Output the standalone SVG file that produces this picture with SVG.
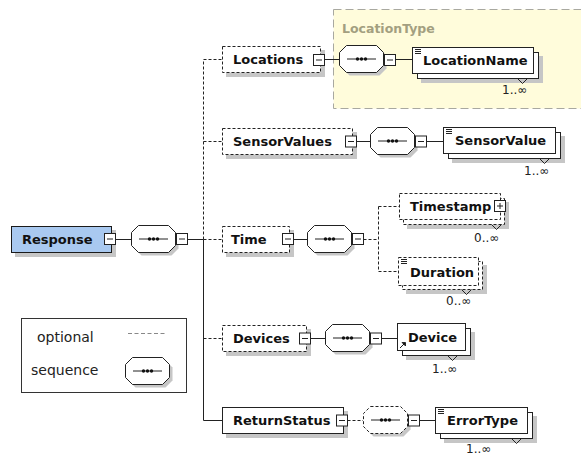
<svg xmlns="http://www.w3.org/2000/svg" xmlns:xlink="http://www.w3.org/1999/xlink" width="581" height="455" viewBox="0 0 581 455">
  <style>
    .lbl { font-family: "DejaVu Sans", Verdana, sans-serif; font-weight: bold; font-size: 13px; fill: #111; }
    .occ { font-family: "DejaVu Sans", Verdana, sans-serif; font-size: 12px; fill: #222; }
    .leg { font-family: "DejaVu Sans", Verdana, sans-serif; font-size: 14px; fill: #222; }
    .box { fill: #fff; stroke: #222; stroke-width: 1; }
    .dbox { fill: #fff; stroke: #222; stroke-width: 1; stroke-dasharray: 3 2; }
    .shadow { fill: #c6c6c6; }
    .ln { fill: none; stroke: #222; stroke-width: 1; }
    .dl { fill: none; stroke: #222; stroke-width: 1; stroke-dasharray: 3 2; }
    .ico { fill: none; stroke: #222; stroke-width: 1; }
  </style>
  <defs>
    <!-- collapse (minus) toggle -->
    <g id="minus">
      <rect class="box" x="0" y="0" width="11" height="11"/>
      <path class="ln" d="M2.5 5.5H8.5"/>
    </g>
    <!-- expand (plus) toggle -->
    <g id="plus">
      <rect class="box" x="0" y="0" width="11" height="11"/>
      <path class="ln" d="M2.5 5.5H8.5M5.5 2.5V8.5"/>
    </g>
    <!-- sequence compositor -->
    <path id="octPath" d="M7.5 0.5H37.5L44.5 7.5V20.5L37.5 27.5H7.5L0.5 20.5V7.5Z"/>
    <g id="dots">
      <path class="ln" d="M8 14H37"/>
      <circle cx="18.5" cy="14" r="1.7" fill="#111"/>
      <circle cx="22.5" cy="14" r="1.7" fill="#111"/>
      <circle cx="26.5" cy="14" r="1.7" fill="#111"/>
    </g>
    <g id="seq">
      <use xlink:href="#octPath" class="shadow" transform="translate(3,3)"/>
      <use xlink:href="#octPath" class="box"/>
      <use xlink:href="#dots"/>
    </g>
    <g id="seqOpt">
      <use xlink:href="#octPath" class="shadow" transform="translate(3,3)"/>
      <use xlink:href="#octPath" class="dbox"/>
      <use xlink:href="#dots"/>
    </g>
    <!-- simple-content marker -->
    <path id="lines" class="ico" d="M0 0.5H6M0 2.5H6M0 4.5H6"/>
  </defs>

  <!-- complex type region -->
  <g id="LocationType">
    <rect x="333.5" y="9.5" width="252" height="99" fill="#fffcdb" stroke="#a8a8a0" stroke-dasharray="8 4"/>
    <text x="342" y="33" class="lbl" style="fill:#a39f80;font-size:12.5px">LocationType</text>
  </g>

  <!-- connectors -->
  <g id="connectors">
    <path class="ln" d="M115.5 239.5H131M187.5 239.5H203.5V420.5H222.5"/>
    <path class="dl" d="M203.5 239.5V59.5H222.5M203.5 141.5H222.5M203.5 239.5H222.5M203.5 338.5H222.5"/>
    <path class="ln" d="M324.5 59.5H339M395.5 59.5H412.5"/>
    <path class="ln" d="M356.5 141.5H370M426.5 141.5H443.5"/>
    <path class="ln" d="M293.5 239.5H307"/>
    <path class="dl" d="M363.5 239.5H378.5M378.5 206.5V271.5M378.5 206.5H399.5M378.5 271.5H398.5"/>
    <path class="ln" d="M310.5 338.5H325M381.5 338.5H397.5"/>
    <path class="dl" d="M347.5 420.5H363"/>
    <path class="ln" d="M419.5 420.5H435.5"/>
  </g>

  <!-- root element -->
  <g id="Response">
    <rect class="shadow" x="15" y="230" width="101" height="27"/>
    <rect x="11.5" y="226.5" width="100" height="26" fill="#a9c9f0" stroke="#1a1a1a"/>
    <text x="22" y="244" class="lbl">Response</text>
    <use xlink:href="#minus" x="104.5" y="233.5"/>
  </g>
  <g id="Response-seq">
    <use xlink:href="#seq" x="131" y="225"/>
    <use xlink:href="#minus" x="176.5" y="233.5"/>
  </g>

  <!-- Locations -->
  <g id="Locations">
    <rect class="shadow" x="226" y="50" width="99" height="27"/>
    <rect class="dbox" x="222.5" y="46.5" width="98" height="26"/>
    <text x="233" y="64" class="lbl">Locations</text>
    <use xlink:href="#minus" x="313.5" y="54.5"/>
  </g>
  <g id="Locations-seq">
    <use xlink:href="#seq" x="339" y="45"/>
    <use xlink:href="#minus" x="384.5" y="54.5"/>
  </g>
  <g id="LocationName">
    <rect class="shadow" x="421" y="56" width="122" height="27"/>
    <rect class="box" x="417.5" y="52.5" width="121" height="26"/>
    <rect class="box" x="412.5" y="47.5" width="121" height="26"/>
    <use xlink:href="#lines" x="415" y="49"/>
    <text x="423" y="65" class="lbl">LocationName</text>
    <path class="ln" d="M517.5 78.5L522.5 83.5L527.5 78.5" fill="#fff"/>
    <text x="502" y="94" class="occ">1..∞</text>
  </g>

  <!-- SensorValues -->
  <g id="SensorValues">
    <rect class="shadow" x="226" y="132" width="131" height="27"/>
    <rect class="dbox" x="222.5" y="128.5" width="130" height="26"/>
    <text x="233" y="146" class="lbl">SensorValues</text>
    <use xlink:href="#minus" x="345.5" y="136"/>
  </g>
  <g id="SensorValues-seq">
    <use xlink:href="#seq" x="370" y="127"/>
    <use xlink:href="#minus" x="415.5" y="136"/>
  </g>
  <g id="SensorValue">
    <rect class="shadow" x="452" y="136" width="113" height="27"/>
    <rect class="box" x="448.5" y="132.5" width="112" height="26"/>
    <rect class="box" x="443.5" y="127.5" width="112" height="26"/>
    <use xlink:href="#lines" x="446" y="129"/>
    <text x="455" y="145" class="lbl">SensorValue</text>
    <path class="ln" d="M539.5 158.5L544.5 163.5L549.5 158.5" fill="#fff"/>
    <text x="524" y="175" class="occ">1..∞</text>
  </g>

  <!-- Time -->
  <g id="Time">
    <rect class="shadow" x="226" y="230" width="68" height="27"/>
    <rect class="dbox" x="222.5" y="226.5" width="67" height="26"/>
    <text x="231" y="244" class="lbl">Time</text>
    <use xlink:href="#minus" x="282.5" y="233.5"/>
  </g>
  <g id="Time-seq">
    <use xlink:href="#seq" x="307" y="225"/>
    <use xlink:href="#minus" x="352.5" y="233.5"/>
  </g>
  <g id="Timestamp">
    <rect class="shadow" x="407" y="202" width="102" height="27"/>
    <rect class="dbox" x="403.5" y="198.5" width="101" height="26"/>
    <rect class="dbox" x="399.5" y="193.5" width="101" height="26"/>
    <text x="410" y="211" class="lbl">Timestamp</text>
    <use xlink:href="#plus" x="494.5" y="200.5"/>
    <path class="ln" d="M491.5 224.5L496.5 229.5L501.5 224.5" fill="#fff"/>
    <text x="474" y="242" class="occ">0..∞</text>
  </g>
  <g id="Duration">
    <rect class="shadow" x="406" y="265" width="81" height="29"/>
    <rect class="dbox" x="402.5" y="261.5" width="80" height="28"/>
    <rect class="dbox" x="398.5" y="257.5" width="80" height="28"/>
    <use xlink:href="#lines" x="401" y="259"/>
    <text x="410" y="277" class="lbl">Duration</text>
    <path class="ln" d="M461.5 289.5L466.5 294.5L471.5 289.5" fill="#fff"/>
    <text x="446" y="305" class="occ">0..∞</text>
  </g>

  <!-- Devices -->
  <g id="Devices">
    <rect class="shadow" x="226" y="329" width="85" height="27"/>
    <rect class="dbox" x="222.5" y="325.5" width="84" height="26"/>
    <text x="233" y="343" class="lbl">Devices</text>
    <use xlink:href="#minus" x="299.5" y="333"/>
  </g>
  <g id="Devices-seq">
    <use xlink:href="#seq" x="325" y="324"/>
    <use xlink:href="#minus" x="370.5" y="333"/>
  </g>
  <g id="Device">
    <rect class="shadow" x="406" y="332" width="69" height="28"/>
    <rect class="box" x="402.5" y="328.5" width="68" height="27"/>
    <rect class="box" x="397.5" y="323.5" width="68" height="27"/>
    <text x="408" y="342" class="lbl">Device</text>
    <path class="ln" d="M400 348L405 343"/>
    <path d="M402 342.5H405.5V346Z" fill="#111" stroke="#111" stroke-width="0.8"/>
    <path class="ln" d="M447.5 355.5L452.5 360.5L457.5 355.5" fill="#fff"/>
    <text x="432" y="373" class="occ">1..∞</text>
  </g>

  <!-- ReturnStatus -->
  <g id="ReturnStatus">
    <rect class="shadow" x="226" y="411" width="122" height="27"/>
    <rect class="box" x="222.5" y="407.5" width="121" height="26"/>
    <text x="233" y="425" class="lbl">ReturnStatus</text>
    <use xlink:href="#minus" x="336.5" y="415"/>
  </g>
  <g id="ReturnStatus-seq">
    <use xlink:href="#seqOpt" x="363" y="406"/>
    <use xlink:href="#minus" x="408.5" y="415"/>
  </g>
  <g id="ErrorType">
    <rect class="shadow" x="444" y="416" width="93" height="27"/>
    <rect class="box" x="440.5" y="412.5" width="92" height="26"/>
    <rect class="box" x="435.5" y="407.5" width="92" height="26"/>
    <use xlink:href="#lines" x="438" y="409"/>
    <text x="447" y="425" class="lbl">ErrorType</text>
    <path class="ln" d="M511.5 438.5L516.5 443.5L521.5 438.5" fill="#fff"/>
    <text x="466" y="453" class="occ">1..∞</text>
  </g>

  <!-- key -->
  <g id="legend">
    <rect x="21.5" y="318.5" width="165" height="74" fill="#fff" stroke="#333"/>
    <text x="37" y="342" class="leg">optional</text>
    <path d="M128 333.5H165" fill="none" stroke="#888" stroke-dasharray="4 2.5"/>
    <text x="31" y="375" class="leg">sequence</text>
    <use xlink:href="#seq" x="125" y="357"/>
  </g>
</svg>
